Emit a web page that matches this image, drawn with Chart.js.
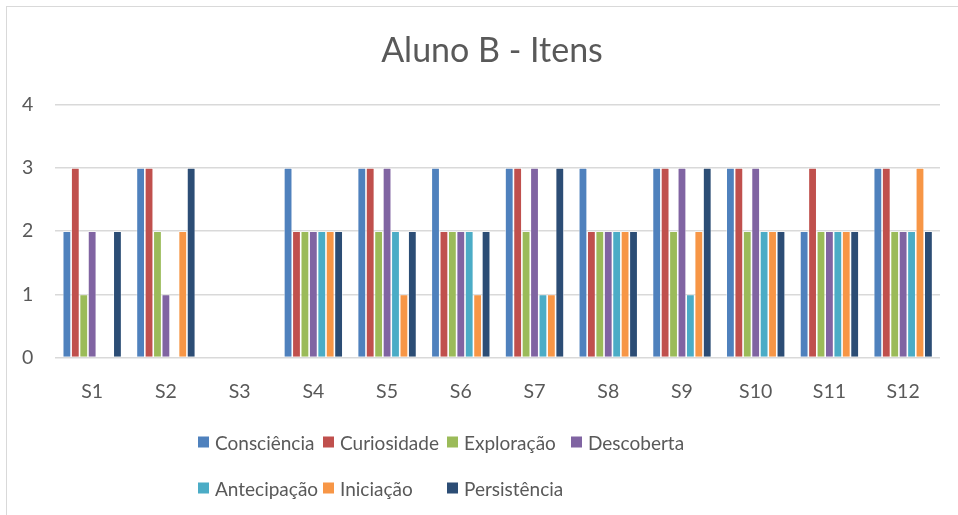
<!DOCTYPE html>
<html>
<head>
<meta charset="utf-8">
<script src="https://cdn.jsdelivr.net/npm/chart.js@4.4.0/dist/chart.umd.min.js"></script>
<style>
  html, body { margin: 0; padding: 0; width: 958px; height: 515px; overflow: hidden; background: #fff; }
  #frame { position: absolute; left: 6px; top: 6px; width: 1000px; height: 600px; border: 1px solid #d9d9d9; }
  #wrap { position: absolute; left: 0; top: 0; width: 984px; height: 515px; }
  #legend { position: absolute; left: 0; top: 0; width: 958px; height: 515px; pointer-events: none;
            font-family: Lato, "Open Sans", sans-serif; font-size: 19px; color: #595959; }
  .item { position: absolute; display: flex; align-items: center; white-space: nowrap; transform: translateY(-50%); }
  .box { width: 11px; height: 11px; margin-right: 6px; }
</style>
</head>
<body>
<div id="frame"></div>
<div id="wrap"><canvas id="c" width="984" height="515"></canvas></div>
<div id="legend"></div>
<script>
const categories = ["S1","S2","S3","S4","S5","S6","S7","S8","S9","S10","S11","S12"];
const seriesNames = ["Consciência","Curiosidade","Exploração","Descoberta","Antecipação","Iniciação","Persistência"];
const consciencia  = [2,3,0,3,3,3,3,3,3,3,2,3];
const curiosidade  = [3,3,0,2,3,2,3,2,3,3,3,3];
const exploracao   = [1,2,0,2,2,2,2,2,2,2,2,2];
const descoberta   = [2,1,0,2,3,2,3,2,3,3,2,2];
const antecipacao  = [0,0,0,2,2,2,1,2,1,2,2,2];
const iniciacao    = [0,2,0,2,1,1,1,2,2,2,2,3];
const persistencia = [2,3,0,2,2,2,3,2,3,2,2,2];
const yTicks = [0,1,2,3,4];
const title = "Aluno B - Itens";

const seriesValues = [consciencia, curiosidade, exploracao, descoberta, antecipacao, iniciacao, persistencia];
const colors = ["#4F81BD","#C0504D","#9BBB59","#8064A2","#4BACC6","#F79646","#2C4D75"];
const FONT = "Lato, 'Open Sans', sans-serif";
const TXT = "#595959";

const datasets = seriesNames.map((n, i) => ({
  label: n,
  data: seriesValues[i],
  backgroundColor: colors[i],
  borderColor: "rgba(255,255,255,0.7)",
  borderWidth: 0.8,
  borderSkipped: "start",
  categoryPercentage: 0.80,
  barPercentage: 1.0
}));

new Chart(document.getElementById("c"), {
  type: "bar",
  data: { labels: categories, datasets },
  options: {
    responsive: false,
    animation: false,
    layout: { padding: { left: 0, right: 0, top: 0, bottom: 90 } },
    plugins: {
      legend: { display: false },
      tooltip: { enabled: false },
      title: {
        display: true, text: title, color: TXT,
        font: { family: FONT, size: 34, weight: "normal" },
        padding: { top: 31, bottom: 33 }
      }
    },
    scales: {
      x: {
        grid: { display: false, drawTicks: false },
        border: { display: false },
        ticks: { color: TXT, font: { family: FONT, size: 19.5 }, padding: 22 }
      },
      y: {
        min: 0, max: 4,
        afterBuildTicks: (s) => { s.ticks = yTicks.map(v => ({ value: v })); },
        grid: { color: "#d9d9d9", lineWidth: 1.5, drawTicks: false },
        border: { display: false },
        ticks: { color: TXT, font: { family: FONT, size: 19.5 }, padding: 22 }
      },
      spacer: {
        type: "linear", position: "right", min: 0, max: 4,
        grid: { display: false, drawTicks: false },
        border: { display: false },
        ticks: { display: false },
        afterFit: (s) => { s.width = 44; }
      }
    }
  }
});

// legend laid out in Excel-like columns
const legend = document.getElementById("legend");
const colX = [198, 323, 447, 571];
const rowY = [442, 488];
seriesNames.forEach((n, i) => {
  const it = document.createElement("div");
  it.className = "item";
  it.style.left = colX[i % 4] + "px";
  it.style.top = rowY[Math.floor(i / 4)] + "px";
  const b = document.createElement("span");
  b.className = "box";
  b.style.background = colors[i];
  const t = document.createElement("span");
  t.textContent = n;
  it.appendChild(b); it.appendChild(t);
  legend.appendChild(it);
});
</script>
</body>
</html>
